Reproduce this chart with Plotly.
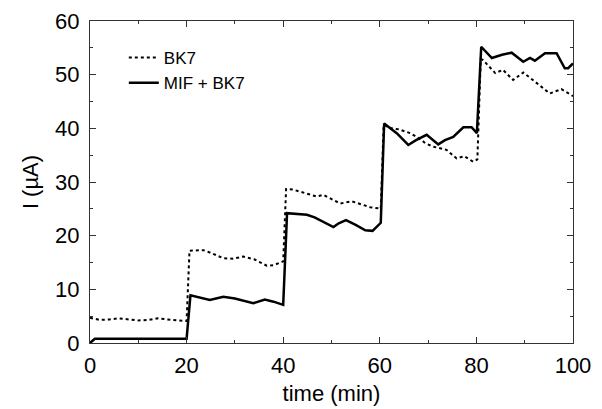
import plotly.graph_objects as go

# BK7 (dotted)
t_bk7 = [0, 2, 4, 6, 8, 10, 12, 14, 16, 18, 19.5, 20.0, 20.6, 22, 23.5, 25, 27.6, 29.5, 31.7, 34, 36.6, 38, 39.3, 40.0,
         40.6, 42, 43.5, 45, 46.9, 48.3, 50, 51.8, 54.2, 56.6, 58, 59.7, 60.2,
         60.8, 62.5, 64, 66.3, 68, 69.5, 71, 73.8, 75.9, 77.5, 79.3, 80.2,
         80.9, 81.4, 83.9, 85.5, 87.6, 89.7, 91.7, 93.5, 95.2, 97.6, 99.7, 100]
i_bk7 = [4.7, 4.3, 4.4, 4.6, 4.4, 4.2, 4.3, 4.6, 4.4, 4.2, 4.1, 4.1, 17.2, 17.2, 17.3, 16.8, 15.8, 15.7, 16.1, 15.6, 14.4, 14.5, 14.9, 15.2,
         28.7, 28.6, 28.2, 27.8, 27.3, 27.6, 26.8, 26.0, 26.4, 25.7, 25.3, 25.1, 25.0,
         40.6, 40.0, 39.8, 39.1, 38.2, 37.2, 36.6, 36.0, 34.4, 34.8, 33.8, 34.2,
         52.9, 52.7, 50.3, 50.9, 49.0, 50.4, 49.0, 47.8, 46.5, 47.3, 46.2, 46.0]

# MIF + BK7 (solid)
t_mif = [0, 1, 3, 6, 9, 12, 15, 18, 20.0, 20.8, 22.5, 24.8, 27.6, 30, 33.8, 36.2, 38, 40.0,
         40.8, 43, 44.9, 46.5, 48.3, 50.4, 51.5, 53, 55, 57, 58.5, 60.2,
         60.9, 63.5, 65.9, 67.5, 69.7, 72.1, 73.5, 75.2, 77.3, 79, 80.1,
         81.0, 83.2, 85.3, 87.3, 89.7, 91.1, 92.1, 94.2, 96.6, 98.3, 99, 100]
i_mif = [0.0, 0.8, 0.8, 0.8, 0.8, 0.8, 0.8, 0.8, 0.8, 8.9, 8.5, 8.0, 8.6, 8.3, 7.4, 8.1, 7.7, 7.1,
         24.2, 24.0, 23.9, 23.4, 22.6, 21.6, 22.3, 22.9, 22.0, 21.0, 20.9, 22.4,
         40.9, 39.1, 36.9, 37.8, 38.8, 37.0, 37.8, 38.4, 40.2, 40.2, 39.1,
         55.2, 53.1, 53.7, 54.1, 52.4, 53.1, 52.6, 54.0, 54.0, 51.2, 51.2, 52.1]

x_ticks = [0, 20, 40, 60, 80, 100]
y_ticks = [0, 10, 20, 30, 40, 50, 60]

fig = go.Figure()
fig.add_trace(go.Scatter(x=t_bk7, y=i_bk7, mode="lines", name="BK7",
                         line=dict(color="black", width=2, dash="dot")))
fig.add_trace(go.Scatter(x=t_mif, y=i_mif, mode="lines", name="MIF + BK7",
                         line=dict(color="black", width=2.5)))

font = "Arial, Liberation Sans, sans-serif"
axis_common = dict(showline=True, linecolor="#333", linewidth=1, mirror="allticks",
                   ticks="inside", ticklen=6, tickcolor="#333", showgrid=False, zeroline=False,
                   automargin=False,
                   tickfont=dict(family=font, size=22, color="black"))

fig.update_xaxes(range=[0, 100], tickvals=x_ticks, ticktext=[str(v) for v in x_ticks],
                 title=dict(text="time (min)", font=dict(family=font, size=22, color="black"), standoff=8),
                 minor=dict(ticks="inside", ticklen=3, dtick=10, tick0=0, tickcolor="#333"),
                 ticklabelstandoff=3,
                 **axis_common)
fig.update_yaxes(range=[0, 60], tickvals=y_ticks, ticktext=[str(v) for v in y_ticks],
                 title=dict(text="I (µA)", font=dict(family=font, size=22, color="black"), standoff=10),
                 minor=dict(ticks="inside", ticklen=3, dtick=5, tick0=0, tickcolor="#333"),
                 ticklabelstandoff=5,
                 **axis_common)

fig.update_layout(
    width=594, height=401,
    margin=dict(l=82, r=29, t=13, b=66),
    paper_bgcolor="white", plot_bgcolor="white",
    showlegend=True,
    legend=dict(x=0.07, y=0.941, xanchor="left", yanchor="top", bgcolor="rgba(0,0,0,0)",
                font=dict(family=font, size=17, color="black"), tracegroupgap=0,
                itemwidth=30),
)

fig.write_html("out.html")
